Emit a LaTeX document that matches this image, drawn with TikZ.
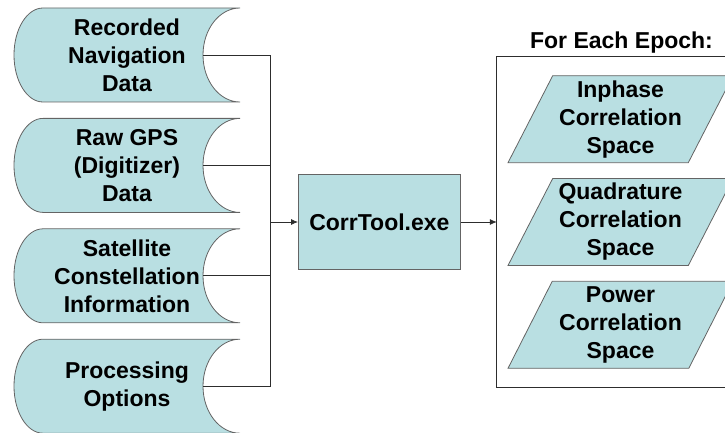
\documentclass[tikz,border=0pt]{standalone}
\usepackage{fontspec}
\setmainfont{Liberation Sans}
\usetikzlibrary{arrows.meta,positioning,shapes.geometric}

\definecolor{boxfill}{RGB}{185,223,226}
\definecolor{boxline}{RGB}{100,100,100}
\definecolor{wirecol}{RGB}{45,45,45}

\tikzset{
  boldtext/.style={font=\bfseries\fontsize{23}{28}\selectfont, align=center},
  datastore/.style={boldtext, minimum width=230pt, minimum height=98pt, inner sep=0pt,
    path picture={
      \draw[draw=boxline, fill=boxfill, line width=0.8pt]
        ([shift={(31pt,-2pt)}]path picture bounding box.north west)
        -- ([shift={(-2pt,-2pt)}]path picture bounding box.north east)
        arc[start angle=90, end angle=270, x radius=37pt, y radius=47pt]
        -- ([shift={(31pt,2pt)}]path picture bounding box.south west)
        arc[start angle=270, end angle=90, x radius=29pt, y radius=47pt]
        -- cycle;
    }},
  corrbox/.style={boldtext, draw=boxline, fill=boxfill, line width=0.8pt,
    minimum width=162pt, minimum height=95pt},
  corrspace/.style={boldtext, trapezium, trapezium left angle=60, trapezium right angle=120,
    trapezium stretches body=true, draw=boxline, fill=boxfill, line width=0.8pt,
    minimum width=225pt, minimum height=87pt, inner sep=0pt},
  epochframe/.style={minimum width=229pt, minimum height=330pt, inner sep=0pt},
  frameline/.style={draw=wirecol, line width=0.8pt},
  wire/.style={draw=wirecol, line width=0.8pt},
  arrow/.style={wire, -{Latex[length=7pt,width=6pt]}}
}

\begin{document}
\begin{tikzpicture}[x=1pt, y=-1pt]
\useasboundingbox (0,0) rectangle (725,433);
\clip (0,0) rectangle (725,433);

% inputs
\node[datastore] (nav) at (127,55) {Recorded\\Navigation\\Data};
\node[datastore, below=12pt of nav] (raw) {Raw GPS\\(Digitizer)\\Data};
\node[datastore, below=12pt of raw] (sat) {Satellite\\Constellation\\Information};
\node[datastore, below=12pt of sat] (opt) {Processing\\Options};

\coordinate (bus) at (270,222);
\node[corrbox, right=28pt of bus] (corr) {CorrTool.exe};

% outputs
\node[epochframe, right=36pt of corr] (epoch) {};
\node[boldtext, inner sep=0pt, above=3pt of epoch.north, xshift=10pt] (title) {For Each Epoch:};

\node[corrspace] (quad) at ([xshift=9pt]epoch.center) {Quadrature\\Correlation\\Space};
\node[corrspace, above=15pt of quad] (inph) {Inphase\\Correlation\\Space};
\node[corrspace, below=15pt of quad] (pow) {Power\\Correlation\\Space};

\draw[frameline] (epoch.north east) -- (epoch.north west) -- (epoch.south west) -- (epoch.south east);

\foreach \n in {nav,raw,sat,opt}
  \draw[wire] ([xshift=-39pt]\n.east) -| (bus);
\draw[arrow] (bus) -- (corr);
\draw[arrow] (corr) -- (epoch);

\end{tikzpicture}
\end{document}
